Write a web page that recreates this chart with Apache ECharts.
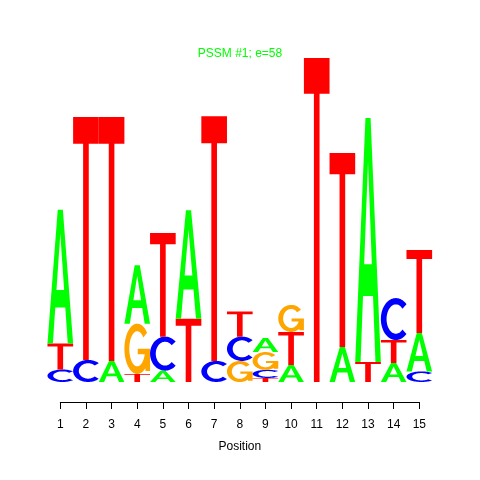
<!DOCTYPE html>
<html>
<head>
<meta charset="utf-8">
<script src="https://cdn.jsdelivr.net/npm/echarts@6/dist/echarts.min.js"></script>
<style>html,body{margin:0;padding:0;background:#fff}#c{width:480px;height:480px}</style>
</head>
<body>
<div id="c"></div>
<script>
// ---- data ----
const positions = [1,2,3,4,5,6,7,8,9,10,11,12,13,14,15];
const tickLabels = ['1','2','3','4','5','6','7','8','9','10','11','12','13','14','15'];
// information content (bits) of each letter at each position
const heightA = [0.827,0,0.130,0.36,0.07,0.67,0,0,0.087,0.105,0,0.216,1.506,0.117,0.238];
const heightC = [0.077,0.136,0,0,0.21,0,0.13,0.15,0.05,0,0,0,0,0.259,0.065];
const heightG = [0,0,0,0.31,0,0,0,0.13,0.11,0.167,0,0,0,0,0];
const heightT = [0.160,1.500,1.506,0.05,0.64,0.39,1.51,0.155,0.025,0.204,2.0,1.198,0.124,0.142,0.512];
// stacking order (bottom -> top) at each position
const stackOrder = ['CTA','CT','AT','TGA','ACT','TA','CT','GCT','TCGA','ATG','T','AT','TA','ATC','CAT'];
const titleText = 'PSSM #1; e=58';
const xName = 'Position';

// ---- glyph shapes (unit box 0..100) ----
function arc(rx, ry, a0, a1, n) {
  const pts = [];
  for (let i = 0; i <= n; i++) {
    const a = (a0 + (a1 - a0) * i / n) * Math.PI / 180;
    pts.push([50 + rx * Math.cos(a), 50 - ry * Math.sin(a)]);
  }
  return pts;
}
function poly(pts) {
  return 'M' + pts.map(p => p[0].toFixed(2) + ',' + p[1].toFixed(2)).join('L') + 'Z';
}
const pathA = 'M0,100L40,0L60,0L100,100L79,100L69.5,73L30.5,73L21,100Z' +
              'M35,60L65,60L50,18Z';
const pathT = 'M0,0L100,0L100,11L61,11L61,100L39,100L39,11L0,11Z';
const pathC = poly(arc(50, 50, 45, 315, 60).concat(arc(31, 35, 315, 45, 60)));
const pathG = poly(arc(50, 50, 40, 350, 60).concat(arc(31, 35, 350, 40, 60))) +
              'M100,50L52,50L52,61L100,61Z' +
              'M100,50L82,50L82,94L100,94Z';
const LETTERS = { A: { path: pathA, color: '#00FF00' },
                  C: { path: pathC, color: '#0000FF' },
                  G: { path: pathG, color: '#FFA500' },
                  T: { path: pathT, color: '#FF0000' } };
const letterKeys = ['A', 'C', 'G', 'T'];
const heights = { A: heightA, C: heightC, G: heightG, T: heightT };

// build stacked segments from the arrays
const segs = [];
positions.forEach((pos, i) => {
  let y = 0;
  for (const L of stackOrder[i]) {
    const h = heights[L][i];
    if (h > 0) {
      segs.push([pos, y, y + h, letterKeys.indexOf(L)]);
      y += h;
    }
  }
});

const chart = echarts.init(document.getElementById('c'), null, { renderer: 'canvas' });
const FONT = 'Liberation Sans, Arial, Helvetica, sans-serif';
chart.setOption({
  animation: false,
  backgroundColor: '#ffffff',
  title: {
    text: titleText, left: 'center', top: 43,
    textStyle: { color: '#00FF00', fontSize: 12, fontWeight: 'normal', fontFamily: FONT }
  },
  grid: { left: 60.3, right: 60.7, top: 58, bottom: 98, containLabel: false },
  xAxis: {
    type: 'value', min: 1, max: 15, interval: 1, offset: 20,
    name: xName, nameLocation: 'middle', nameGap: 39,
    nameTextStyle: { color: '#000', fontSize: 12, fontFamily: FONT },
    axisLine: { show: true, onZero: false, lineStyle: { color: '#000', width: 1 } },
    axisTick: { show: true, length: 7, lineStyle: { color: '#000' } },
    axisLabel: { color: '#000', fontSize: 12, fontFamily: FONT, margin: 17,
                 formatter: v => tickLabels[positions.indexOf(v)] || '' },
    splitLine: { show: false }
  },
  yAxis: { type: 'value', min: 0, max: 2, show: false, splitLine: { show: false } },
  series: [{
    type: 'custom',
    clip: false,
    data: segs,
    encode: { x: 0, y: [1, 2] },
    renderItem: function (params, api) {
      const x = api.value(0), y0 = api.value(1), y1 = api.value(2);
      const L = LETTERS[letterKeys[api.value(3)]];
      const p0 = api.coord([x - 0.5, y1]);
      const p1 = api.coord([x + 0.5, y0]);
      return {
        type: 'path',
        shape: { pathData: L.path, x: p0[0], y: p0[1],
                 width: p1[0] - p0[0], height: p1[1] - p0[1], layout: 'cover' },
        style: { fill: L.color }
      };
    }
  }]
});
</script>
</body>
</html>
